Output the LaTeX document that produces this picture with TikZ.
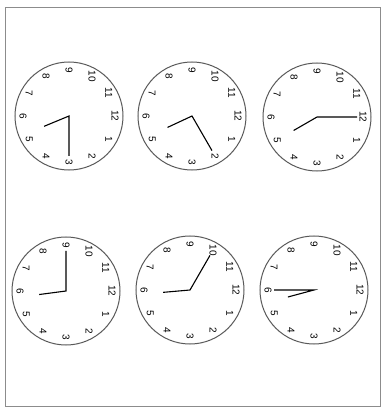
\documentclass[tikz,border=0pt]{standalone}
\usepackage{fontspec}
\setsansfont{Liberation Sans}
\begin{document}
\begin{tikzpicture}[
x=1pt, y=1pt,
face/.style={draw=black!65, line width=1pt},
numeral/.style={font=\sffamily\fontsize{10}{10}\selectfont, inner sep=0pt, transform shape},
hand/.style={line width=1.1pt, line join=miter}
]
\useasboundingbox (0,0) rectangle (384,408);
\draw[black!45, line width=0.8pt] (5,2) rectangle (380,401);
% six clock faces, turned a quarter turn clockwise
\foreach \clk/\cx/\cy/\hr/\mn in {a/69/292/5/15, b/192/292/5/10, c/317/291/5/0,
                                   d/66/117/5/45, e/190/118/5/50, f/314/118/5/30} {
  \begin{scope}[shift={(\cx,\cy)}, rotate=-90]
    \coordinate (\clk) at (0,0);
    \draw[face] (\clk) circle (54);
    \foreach \k in {1,...,12}
      \node[numeral] (\clk\k) at ({90-30*\k}:46) {\k};
    \coordinate (\clk m) at ({90-6*\mn}:40);
    \coordinate (\clk h) at ({90-30*(\hr+\mn/60)}:27);
    \draw[hand] (\clk m) -- (\clk) -- (\clk h);
  \end{scope}
}
\end{tikzpicture}
\end{document}
